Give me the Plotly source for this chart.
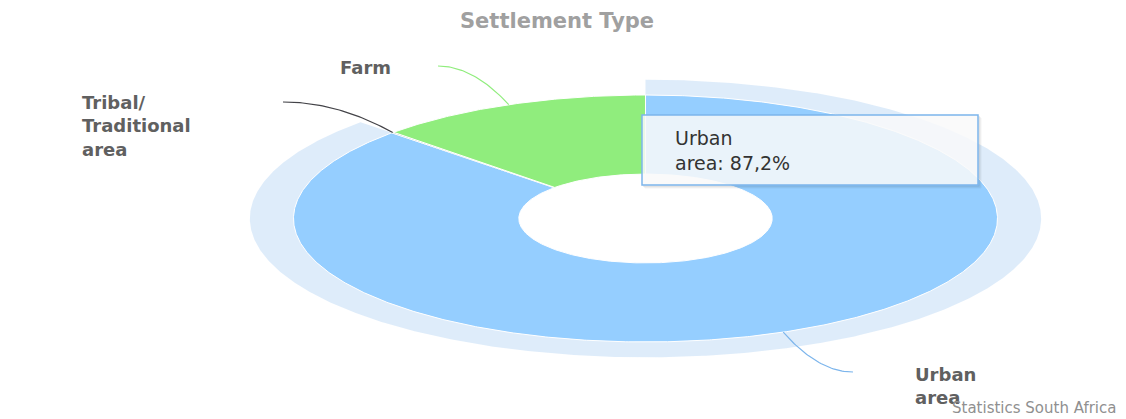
import numpy as np
import plotly.graph_objects as go

# ---------------- data ----------------
chart_title = "Settlement Type"
categories = ["Urban area", "Tribal/ Traditional area", "Farm"]
label_texts = ["Urban<br>area", "Tribal/<br>Traditional<br>area", "Farm"]
values = [87.2, 0.1, 12.7]
credits_text = "Statistics South Africa"
hovered_index = 0

# ---------------- styles / layout geometry ----------------
slice_colors = ["#95ceff", "#434348", "#90ed7d"]
connector_colors = ["#7cb5ec", "#434348", "#90ed7d"]
halo_color = "rgba(124,181,236,0.25)"
W, H = 1126, 419
OFF = 8  # page body margin
CX, CY = 645.5, 218.5
RX, RY = 352.0, 123.5
INNER = 0.36
HALO = 1.124
connector_label_end = [(853, 372), (283, 102), (438, 66)]
label_centers = [(945, 386), (136, 126), (365, 67)]
LABEL_FONT = dict(family="DejaVu Sans", size=18, color="#606060", weight="bold")


def pt(theta_deg, r):
    t = np.radians(theta_deg)
    return CX + RX * r * np.sin(t), CY - RY * r * np.cos(t)


def sector(a0, a1, r0, r1):
    n = max(int(abs(a1 - a0) / 0.4), 2)
    th = np.linspace(a0, a1, n)
    xo, yo = pt(th, r1)
    xi, yi = pt(th[::-1], r0)
    x = np.concatenate([xo, xi, xo[:1]])
    y = np.concatenate([yo, yi, yo[:1]])
    return x, y


total = float(sum(values))
ends = np.cumsum(values) / total * 360.0
starts = np.concatenate([[0.0], ends[:-1]])
mids = (starts + ends) / 2.0

fig = go.Figure()

# halo of hovered slice
hx, hy = sector(starts[hovered_index], ends[hovered_index], 1.0, HALO)
fig.add_trace(go.Scatter(x=hx, y=hy, mode="lines", fill="toself",
                         fillcolor=halo_color, line=dict(width=0),
                         hoverinfo="skip", showlegend=False))

# slices
for i, cat in enumerate(categories):
    sx, sy = sector(starts[i], ends[i], INNER, 1.0)
    fig.add_trace(go.Scatter(x=sx, y=sy, mode="lines", fill="toself",
                             fillcolor=slice_colors[i],
                             line=dict(color="white", width=1),
                             name=cat, hoverinfo="skip", showlegend=False))

# connectors (quadratic bezier from label end to slice edge at mid angle)
for i, cat in enumerate(categories):
    ex, ey = pt(mids[i], 1.0)
    lx, ly = connector_label_end[i]
    cx_, cy_ = lx + 0.5 * (ex - lx), ly
    t = np.linspace(0, 1, 40)
    bx = (1 - t) ** 2 * lx + 2 * (1 - t) * t * cx_ + t ** 2 * ex
    by = (1 - t) ** 2 * ly + 2 * (1 - t) * t * cy_ + t ** 2 * ey
    fig.add_trace(go.Scatter(x=bx, y=by, mode="lines",
                             line=dict(color=connector_colors[i], width=1.2),
                             hoverinfo="skip", showlegend=False))

annotations = []
for i, txt in enumerate(label_texts):
    x, y = label_centers[i]
    annotations.append(dict(x=x, y=y, xref="x", yref="y", text=txt,
                            showarrow=False, xanchor="center", yanchor="middle",
                            align="left", font=LABEL_FONT))

# title
annotations.append(dict(x=557, y=OFF, xref="x", yref="y", text=chart_title,
                        showarrow=False, xanchor="center", yanchor="top",
                        borderpad=0,
                        font=dict(family="DejaVu Sans", size=21, color="#a0a0a0",
                                  weight="bold")))

# tooltip
tip_name = categories[hovered_index].replace(" ", "<br>", 1)
tip_val = f"{values[hovered_index]:.1f}".replace(".", ",")
tip_text = f"{tip_name}: {tip_val}%"
x0, y0, x1, y1 = 642, 115, 978, 185
shapes = []
for k, a in [(3, 0.05), (2, 0.09), (1, 0.14)]:
    shapes.append(dict(type="path", xref="x", yref="y", layer="above",
                       path=f"M {x1 + k} {y0 + k} L {x1 + k} {y1 + k} L {x0 + k} {y1 + k}",
                       line=dict(color=f"rgba(0,0,0,{a})", width=1)))
shapes.append(dict(type="rect", xref="x", yref="y", layer="above",
                   x0=x0, y0=y0, x1=x1, y1=y1,
                   fillcolor="rgba(249,249,249,0.85)",
                   line=dict(color="#7cb5ec", width=1.5)))
annotations.append(dict(x=673, y=150, xref="x", yref="y", text=tip_text,
                        showarrow=False, xanchor="left", yanchor="middle",
                        align="left",
                        font=dict(family="DejaVu Sans", size=19, color="#333333")))

# credits
annotations.append(dict(x=1118, y=408, xref="x", yref="y", text=credits_text,
                        showarrow=False, xanchor="right", yanchor="middle",
                        font=dict(family="DejaVu Sans", size=15, color="#909090")))

fig.update_layout(
    width=W - OFF, height=H - OFF,
    margin=dict(l=0, r=0, t=0, b=0),
    paper_bgcolor="white", plot_bgcolor="white",
    xaxis=dict(range=[OFF, W], visible=False, fixedrange=True),
    yaxis=dict(range=[H, OFF], visible=False, fixedrange=True),
    annotations=annotations,
    shapes=shapes,
    showlegend=False,
)

fig.write_html("out.html")
